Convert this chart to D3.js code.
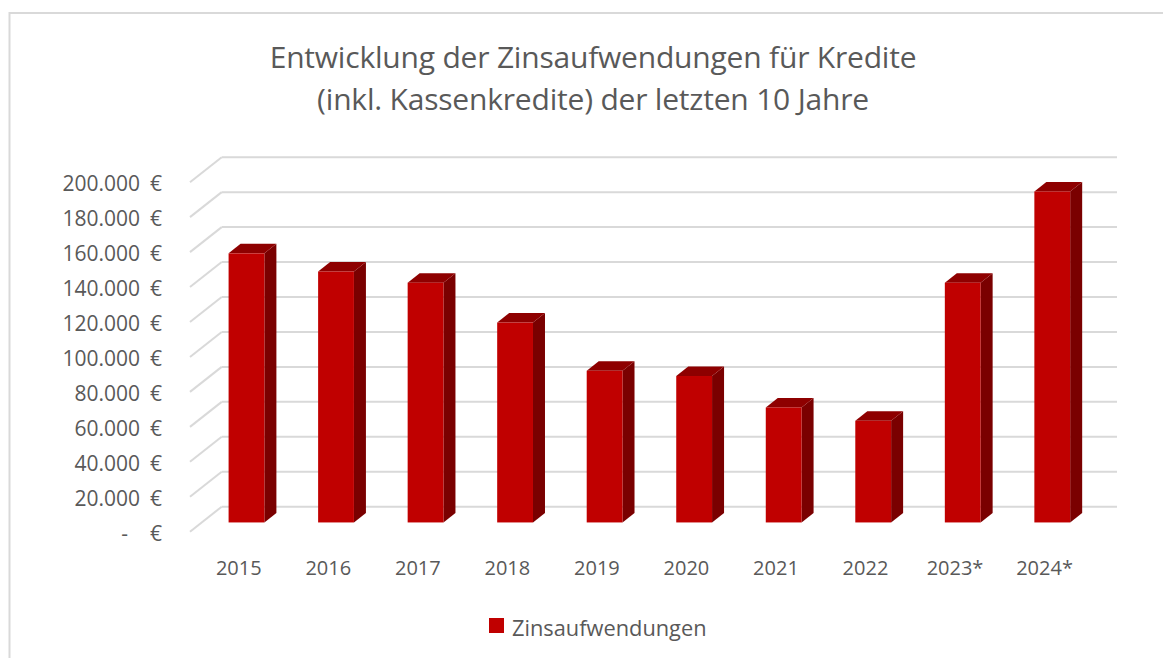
<!DOCTYPE html>
<html>
<head>
<meta charset="utf-8">
<script src="https://cdn.jsdelivr.net/npm/d3@7"></script>
<style>
  html, body { margin: 0; padding: 0; background: #fff; }
  svg { display: block; }
  text { font-family: "Open Sans", "Noto Sans", sans-serif; fill: #595959; }
</style>
</head>
<body>
<svg id="chart" width="1163" height="658"></svg>
<script>
// ---- data ----
const categories = ["2015", "2016", "2017", "2018", "2019", "2020", "2021", "2022", "2023*", "2024*"];
const values = [154000, 143600, 137200, 114400, 86800, 83800, 65800, 58200, 137200, 189400];
const yTicks = [0, 20000, 40000, 60000, 80000, 100000, 120000, 140000, 160000, 180000, 200000];
const seriesName = "Zinsaufwendungen";
const titleLines = ["Entwicklung der Zinsaufwendungen für Kredite", "(inkl. Kassenkredite) der letzten 10 Jahre"];

// ---- layout ----
const svg = d3.select("#chart");
const W = 1163, H = 658;

// frame
svg.append("rect")
  .attr("x", 9.5).attr("y", 13).attr("width", W + 20).attr("height", H + 20)
  .attr("fill", "#fff").attr("stroke", "#d9d9d9").attr("stroke-width", 2);

// 3D geometry: back wall plane, front plane offset
const backX0 = 221.7, backX1 = 1117, backZeroY = 506.7;
const depthDX = 31.7, depthDY = 25;     // back -> front: (-dx, +dy)
const plotH = 349.5;                    // pixel height of 0..200k

const yBack = d3.scaleLinear().domain([0, 200000]).range([backZeroY, backZeroY - plotH]);

// bar plane (fraction of depth from the front)
const barT = 0.37;
const barPlaneX0 = backX0 - depthDX * (1 - barT);
const barPlaneZeroY = backZeroY + depthDY * (1 - barT);
const yBar = d3.scaleLinear().domain([0, 200000]).range([barPlaneZeroY, barPlaneZeroY - plotH]);
const xBar = d3.scaleBand().domain(categories)
  .range([barPlaneX0, barPlaneX0 + (backX1 - backX0)])
  .paddingInner(0.6).paddingOuter(0.3);

// front plane (labels)
const frontX0 = backX0 - depthDX;
const xFront = d3.scaleBand().domain(categories)
  .range([frontX0, frontX0 + (backX1 - backX0)]);
const yFront = d3.scaleLinear().domain([0, 200000]).range([backZeroY + depthDY, backZeroY + depthDY - plotH]);

// gridlines: back wall horizontal + side diagonal
const grid = svg.append("g");
grid.selectAll("line.h").data(yTicks).join("line")
  .attr("class", "h")
  .attr("x1", backX0).attr("x2", backX1)
  .attr("y1", d => yBack(d)).attr("y2", d => yBack(d))
  .attr("stroke", "#d9d9d9").attr("stroke-width", 2);
grid.selectAll("line.d").data(yTicks).join("line")
  .attr("class", "d")
  .attr("x1", backX0).attr("y1", d => yBack(d))
  .attr("x2", backX0 - depthDX).attr("y2", d => yBack(d) + depthDY)
  .attr("stroke", "#d9d9d9").attr("stroke-width", 2);

// bars
const bdx = 12, bdy = 9.5;
const bw = xBar.bandwidth();
const bars = svg.append("g").selectAll("g").data(categories.map((c, i) => ({c, v: values[i]}))).join("g");
// side face
bars.append("path")
  .attr("fill", "#7a0000")
  .attr("d", d => {
    const x = xBar(d.c) + bw, yt = yBar(d.v), yb = yBar(0);
    return `M${x},${yt}L${x + bdx},${yt - bdy}L${x + bdx},${yb - bdy}L${x},${yb}Z`;
  });
// top face
bars.append("path")
  .attr("fill", "#8e0000")
  .attr("d", d => {
    const x = xBar(d.c), yt = yBar(d.v);
    return `M${x},${yt}L${x + bdx},${yt - bdy}L${x + bw + bdx},${yt - bdy}L${x + bw},${yt}Z`;
  });
// front face
bars.append("rect")
  .attr("fill", "#c00000")
  .attr("x", d => xBar(d.c)).attr("width", bw)
  .attr("y", d => yBar(d.v)).attr("height", d => yBar(0) - yBar(d.v));

// y axis labels
const fmt = d3.formatLocale({decimal: ",", thousands: ".", grouping: [3], currency: ["", " €"]});
const numFmt = fmt.format(",.0f");
const yAxis = d3.axisLeft(yFront).tickValues(yTicks).tickSize(0).tickPadding(0)
  .tickFormat(d => d === 0 ? "-" : numFmt(d));
const ya = svg.append("g").attr("transform", "translate(140,2)").call(yAxis);
ya.select(".domain").remove();
ya.selectAll("text").attr("font-size", 21).attr("fill", "#595959")
  .attr("font-family", "Open Sans").attr("dx", d => d === 0 ? -12 : 0);
ya.selectAll(".tick").append("text")
  .attr("x", 22).attr("dy", "0.32em").attr("text-anchor", "end")
  .attr("font-size", 21).attr("fill", "#595959").attr("font-family", "Open Sans")
  .text("€");

// x axis labels
const xAxis = d3.axisBottom(xFront).tickSize(0).tickPadding(0);
const xa = svg.append("g").attr("transform", "translate(4,561)").call(xAxis);
xa.select(".domain").remove();
xa.selectAll("text").attr("font-size", 20).attr("fill", "#595959").attr("font-family", "Open Sans");

// title
svg.append("g").selectAll("text").data(titleLines).join("text")
  .attr("x", 593).attr("y", (d, i) => 68 + i * 42)
  .attr("text-anchor", "middle").attr("font-size", 30).attr("fill", "#595959")
  .attr("letter-spacing", -0.2)
  .text(d => d);

// legend
const lg = svg.append("g").attr("transform", "translate(489,618)");
lg.append("rect").attr("width", 15).attr("height", 15).attr("fill", "#c00000");
lg.append("text").attr("x", 23).attr("y", 18)
  .attr("font-size", 21.8).attr("fill", "#595959").text(seriesName);
</script>
</body>
</html>
